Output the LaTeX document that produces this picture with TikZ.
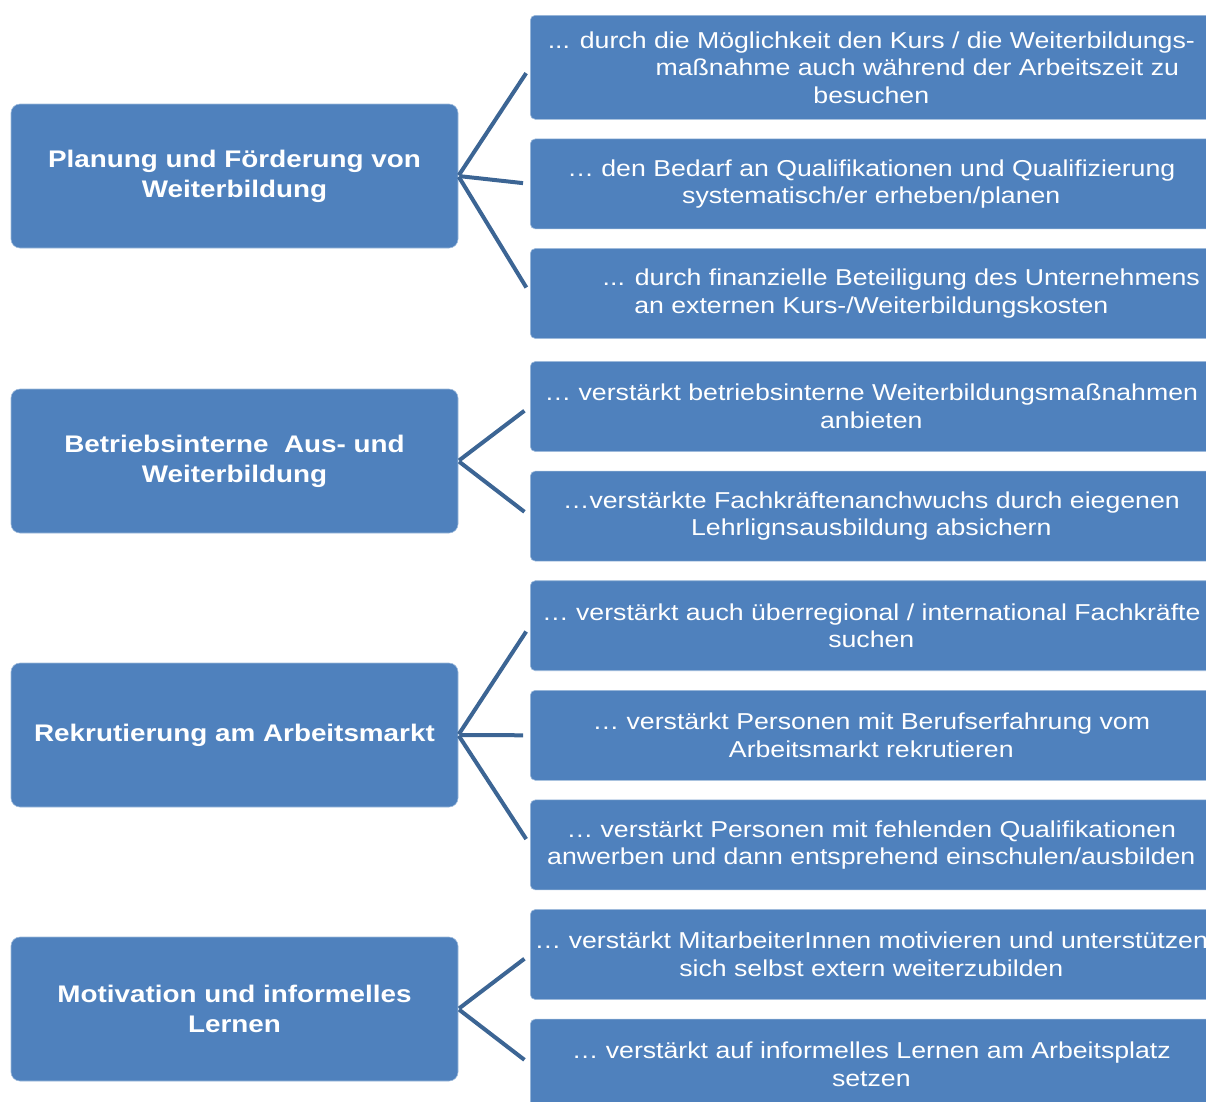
\documentclass[tikz,border=0pt]{standalone}
\usepackage{fontspec}
\setmainfont[FakeStretch=1.16]{Liberation Sans}
\usetikzlibrary{positioning}
\definecolor{boxblue}{HTML}{4F81BD}
\definecolor{linkblue}{HTML}{3C6594}
\tikzset{node distance=19pt,
topic/.style={
rectangle, rounded corners=9pt,
fill=boxblue, draw=boxblue!55!white, line width=0.6pt,
minimum width=447pt, minimum height=144pt, inner sep=0pt,
text=white, align=center,
font=\fontsize{24}{30}\selectfont\bfseries},
item/.style={
rectangle, rounded corners=5pt,
fill=boxblue, draw=boxblue!55!white, line width=0.6pt,
minimum width=682pt, minimum height=90pt, inner sep=0pt,
text=white, align=center,
font=\fontsize{23}{27.5}\selectfont},
every edge/.style={
draw=linkblue,
line width=4pt,
shorten <=1pt,
shorten >=7pt}}

\begin{document}
\begin{tikzpicture}[x=1pt,y=-1pt]
\useasboundingbox (0,0) rectangle (1206,1101);
% topics on the left
\node[topic] (plan) at (234.5,176) {Planung und Förderung von\\Weiterbildung};
\node[topic] (intern) at (234.5,461) {Betriebsinterne\ \ Aus- und\\Weiterbildung};
\node[topic] (markt) at (234.5,735) {Rekrutierung am Arbeitsmarkt};
\node[topic] (motiv) at (234.5,1009) {Motivation und informelles\\Lernen};
% measures on the right
\node[item, minimum height=104pt, anchor=north west] (plan1) at (530,15) {... durch die Möglichkeit den Kurs / die Weiterbildungs-\\\hspace*{92pt}maßnahme auch während der Arbeitszeit zu\\besuchen};
\node[item, below=of plan1] (plan2) {… den Bedarf an Qualifikationen und Qualifizierung\\systematisch/er erheben/planen};
\node[item, below=of plan2] (plan3) {\hspace*{60pt}... durch finanzielle Beteiligung des Unternehmens\\an externen Kurs-/Weiterbildungskosten};
\node[item, below=22.4pt of plan3] (intern1) {… verstärkt betriebsinterne Weiterbildungsmaßnahmen\\anbieten};
\node[item, below=of intern1] (intern2) {…verstärkte Fachkräftenanchwuchs durch eiegenen\\Lehrlignsausbildung absichern};
\node[item, below=of intern2] (markt1) {… verstärkt auch überregional / international Fachkräfte\\suchen};
\node[item, below=of markt1] (markt2) {… verstärkt Personen mit Berufserfahrung vom\\Arbeitsmarkt rekrutieren};
\node[item, below=of markt2] (markt3) {… verstärkt Personen mit fehlenden Qualifikationen\\anwerben und dann entsprehend einschulen/ausbilden};
\node[item, below=of markt3] (motiv1) {… verstärkt MitarbeiterInnen motivieren und unterstützen\\sich selbst extern weiterzubilden};
\node[item, below=of motiv1] (motiv2) {… verstärkt auf informelles Lernen am Arbeitsplatz\\setzen};
% links
\draw (plan.east) edge (plan1.west) edge (plan2.west) edge (plan3.west);
\draw (intern.east) edge (intern1.west) edge (intern2.west);
\draw (markt.east) edge (markt1.west) edge (markt2.west) edge (markt3.west);
\draw (motiv.east) edge (motiv1.west) edge (motiv2.west);
\end{tikzpicture}
\end{document}
